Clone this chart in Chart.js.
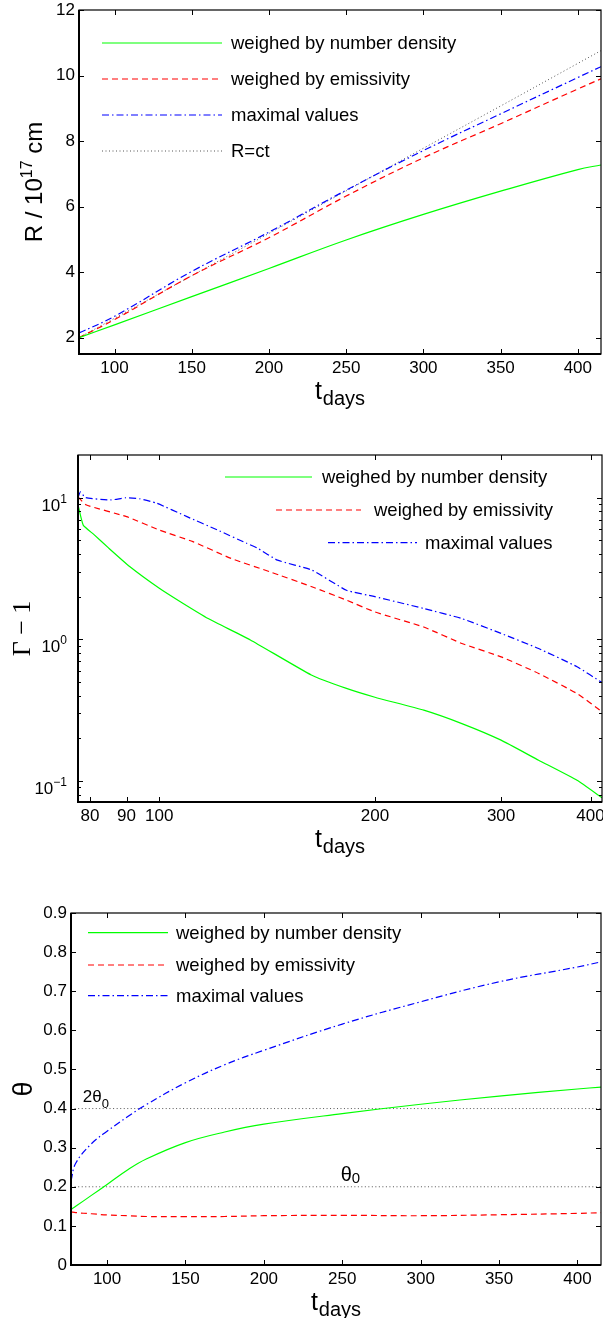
<!DOCTYPE html>
<html>
<head>
<meta charset="utf-8">
<script src="https://cdn.jsdelivr.net/npm/chart.js@4.4.0/dist/chart.umd.min.js"></script>
<style>
  html, body { margin: 0; padding: 0; background: #fff; }
  #lienzo { position: relative; width: 603px; height: 1318px; }
  canvas { position: absolute; left: 0; }
</style>
</head>
<body>
<div id="lienzo">
  <canvas id="radio" width="603" height="420" style="top:0px"></canvas>
  <canvas id="lorentz" width="603" height="440" style="top:420px"></canvas>
  <canvas id="apertura" width="603" height="458" style="top:860px"></canvas>
</div>
<script>
// ---- datos ----
// panel 1: R / 10^17 cm
const tRadio = [77, 100, 150, 200, 250, 300, 350, 400, 415];
const radioDensidad = [2.0, 2.39, 3.25, 4.11, 4.98, 5.76, 6.47, 7.13, 7.27];
const radioEmisividad = [2.0, 2.55, 3.89, 5.05, 6.32, 7.49, 8.53, 9.59, 9.90];
const radioMaximo = [2.14, 2.65, 4.02, 5.22, 6.50, 7.71, 8.83, 9.94, 10.27];
const radioLuz = [2.0, 2.59, 3.89, 5.18, 6.48, 7.78, 9.07, 10.37, 10.76];

// panel 2: Gamma - 1 (log-log)
const tGammaDensidad = [77, 78.3, 81, 85, 91, 100, 107, 117, 134, 163, 182.5, 200, 234, 264.5, 300, 338.5, 383, 415];
const gammaDensidad = [8.9, 6.4, 5.5, 4.4, 3.25, 2.29, 1.84, 1.40, 0.99, 0.56, 0.45, 0.39, 0.316, 0.254, 0.194, 0.14, 0.101, 0.076];
const tGammaEmisividad = [77, 79, 90, 100, 111.4, 126, 142.6, 163.3, 182.5, 200, 234, 264.5, 300, 338.5, 383, 415];
const gammaEmisividad = [10.1, 8.9, 7.34, 5.91, 4.89, 3.72, 3.0, 2.35, 1.89, 1.56, 1.22, 0.934, 0.752, 0.574, 0.414, 0.308];
const tGammaMaximo = [77, 77.6, 78.9, 85.6, 89.8, 94, 99.2, 109.3, 120.5, 132.4, 137.3, 146.2, 163.3, 182.5, 200, 233.9, 264.5, 300, 338.5, 383, 415];
const gammaMaximo = [10.0, 11.0, 10.0, 9.63, 9.98, 9.8, 9.13, 7.34, 5.92, 4.76, 4.38, 3.62, 3.08, 2.22, 2.0, 1.65, 1.40, 1.10, 0.86, 0.64, 0.495];
const ticksLorentzX = [80, 90, 100, 200, 300, 400];
const ticksLorentzY = [0.1, 1, 10];
const menoresLorentzY = [0.08, 0.09, 0.2, 0.3, 0.4, 0.5, 0.6, 0.7, 0.8, 0.9, 2, 3, 4, 5, 6, 7, 8, 9];

// panel 3: theta
const tTheta = [77, 80, 90, 100, 113, 125, 150, 175, 200, 250, 300, 350, 400, 415];
const thetaDensidad = [0.142, 0.15, 0.178, 0.206, 0.243, 0.271, 0.313, 0.34, 0.36, 0.387, 0.411, 0.432, 0.450, 0.455];
const thetaEmisividad = [0.136, 0.134, 0.131, 0.128, 0.126, 0.124, 0.1235, 0.124, 0.126, 0.127, 0.126, 0.1285, 0.132, 0.1337];
const thetaMaximo = [0.215, 0.26, 0.31, 0.342, 0.379, 0.41, 0.466, 0.512, 0.549, 0.616, 0.673, 0.724, 0.762, 0.775];
const tReferencia = [77, 415];
const dosTheta0 = [0.4, 0.4];
const theta0 = [0.2, 0.2];

// ---- estilos ----
const fuente = "'Liberation Sans', Arial, Helvetica, sans-serif";
const verde = '#00ff00';
const rojo = '#ff0000';
const azul = '#0000ff';
const gris = '#555555';
const guionRojo = [6, 4];
const guionAzul = [7, 3, 1.5, 3];
const punteado = [1, 2.5];

const serie = (etiqueta, xs, ys, color, guiones, ancho = 1.2, curva = 0.4) => ({
  label: etiqueta,
  data: xs.map((t, i) => ({ x: t, y: ys[i] })),
  borderColor: color,
  borderDash: guiones,
  borderWidth: ancho,
  pointRadius: 0,
  fill: false,
  tension: curva
});

const fijarAncho = (w) => (s) => { s.width = w; s.paddingTop = 0; s.paddingBottom = 0; s.paddingLeft = 0; s.paddingRight = 0; };
const fijarAlto = (h) => (s) => { s.height = h; s.paddingTop = 0; s.paddingBottom = 0; s.paddingLeft = 0; s.paddingRight = 0; };

const ejeBase = {
  grid: { display: false, drawTicks: false },
  border: { display: false },
  ticks: { color: '#000', font: { family: fuente, size: 17 }, maxRotation: 0, autoSkip: false, includeBounds: false, padding: 4 }
};

// marco tipo matlab, leyenda, titulos
const marcoMatlab = {
  id: 'marcoMatlab',
  afterDraw(chart, args, o) {
    const { ctx, chartArea: a, scales } = chart;
    const x = scales.x, y = scales.y;
    const raya = (x0, y0, x1, y1) => { ctx.beginPath(); ctx.moveTo(x0, y0); ctx.lineTo(x1, y1); ctx.stroke(); };
    ctx.save();
    ctx.strokeStyle = '#000';
    ctx.lineWidth = 1;
    x.ticks.forEach(t => {
      const px = Math.round(x.getPixelForValue(t.value)) + 0.5;
      raya(px, a.bottom, px, a.bottom - 5);
      raya(px, a.top, px, a.top + 5);
    });
    y.ticks.forEach(t => {
      const py = Math.round(y.getPixelForValue(t.value)) + 0.5;
      raya(a.left, py, a.left + 5, py);
      raya(a.right, py, a.right - 5, py);
    });
    (o.menores || []).forEach(v => {
      if (v <= y.min || v >= y.max) return;
      const py = Math.round(y.getPixelForValue(v)) + 0.5;
      raya(a.left, py, a.left + 3, py);
      raya(a.right, py, a.right - 3, py);
    });
    ctx.lineWidth = 1.2;
    ctx.strokeRect(a.left, a.top, a.right - a.left, a.bottom - a.top);
    ctx.lineWidth = 2;
    raya(a.left, a.top, a.left, a.bottom + 1);
    raya(a.left - 1, a.bottom, a.right, a.bottom);

    // etiquetas 10^n
    ctx.fillStyle = '#000';
    if (o.potencias) {
      ctx.textAlign = 'right';
      y.ticks.forEach(t => {
        const py = y.getPixelForValue(t.value);
        const e = Math.round(Math.log10(t.value));
        const sup = e < 0 ? '\u2212' + (-e) : String(e);
        ctx.font = `12px ${fuente}`;
        const ws = ctx.measureText(sup).width;
        const xr = a.left - 11;
        ctx.fillText(sup, xr, py + 5);
        ctx.font = `17px ${fuente}`;
        ctx.fillText('10', xr - ws, py + 13);
      });
      ctx.textAlign = 'left';
    }

    // leyenda
    (o.leyenda || []).forEach((item, i) => {
      const ds = chart.data.datasets[i];
      ctx.strokeStyle = ds.borderColor;
      ctx.lineWidth = ds.borderWidth;
      ctx.setLineDash(ds.borderDash || []);
      raya(item.x0, item.y, item.x1, item.y);
      ctx.setLineDash([]);
      ctx.font = `18.5px ${fuente}`;
      ctx.fillText(ds.label, item.xt, item.y + 6);
    });

    // notas (2theta0, theta0)
    (o.notas || []).forEach(n => {
      const px = x.getPixelForValue(n.t);
      const py = y.getPixelForValue(n.valor) + n.dy;
      ctx.font = `${n.size}px ${fuente}`;
      ctx.fillText(n.texto, px, py);
      const w = ctx.measureText(n.texto).width;
      ctx.font = `${n.subSize}px ${fuente}`;
      ctx.fillText(n.sub, px + w, py + n.subDy);
    });

    // titulo x: t_days
    const cx = (a.left + a.right) / 2;
    ctx.font = `25px ${fuente}`;
    const wt = ctx.measureText('t').width;
    ctx.font = `20px ${fuente}`;
    const wd = ctx.measureText('days').width;
    const x0 = cx - (wt + wd + 1) / 2;
    ctx.font = `25px ${fuente}`;
    ctx.fillText('t', x0, a.bottom + 45);
    ctx.font = `20px ${fuente}`;
    ctx.fillText('days', x0 + wt + 1, a.bottom + 51);

    // titulo y
    ctx.save();
    ctx.translate(o.tituloYx, (a.top + a.bottom) / 2);
    ctx.rotate(-Math.PI / 2);
    let total = 0;
    o.tituloY.forEach(p => {
      ctx.font = `${p.size}px ${p.familia || fuente}`;
      p.w = ctx.measureText(p.texto).width;
      total += p.w;
    });
    let pos = -total / 2;
    o.tituloY.forEach(p => {
      ctx.font = `${p.size}px ${p.familia || fuente}`;
      ctx.fillText(p.texto, pos, p.dy || 0);
      pos += p.w;
    });
    ctx.restore();
    ctx.restore();
  }
};

const opcionesComunes = { responsive: false, animation: false, events: [] };

// ---- panel 1 ----
new Chart(document.getElementById('radio'), {
  type: 'line',
  data: {
    datasets: [
      serie('weighed by number density', tRadio, radioDensidad, verde, []),
      serie('weighed by emissivity', tRadio, radioEmisividad, rojo, guionRojo),
      serie('maximal values', tRadio, radioMaximo, azul, guionAzul),
      serie('R=ct', tRadio, radioLuz, gris, punteado, 1)
    ]
  },
  options: {
    ...opcionesComunes,
    layout: { padding: { top: 10, right: 2, left: 0, bottom: 0 } },
    scales: {
      x: { ...ejeBase, type: 'linear', min: 77, max: 415, afterFit: fijarAlto(66),
           ticks: { ...ejeBase.ticks, stepSize: 50 } },
      y: { ...ejeBase, type: 'linear', min: 1.5, max: 12, afterFit: fijarAncho(79),
           ticks: { ...ejeBase.ticks, stepSize: 2 } }
    },
    plugins: {
      legend: { display: false },
      tooltip: { enabled: false },
      marcoMatlab: {
        leyenda: [
          { x0: 102, x1: 222, xt: 231, y: 43 },
          { x0: 102, x1: 222, xt: 231, y: 79 },
          { x0: 102, x1: 222, xt: 231, y: 115 },
          { x0: 102, x1: 222, xt: 231, y: 151 }
        ],
        tituloYx: 42,
        tituloY: [
          { texto: 'R / 10', size: 24 },
          { texto: '17', size: 16, dy: -10 },
          { texto: ' cm', size: 24 }
        ]
      }
    }
  },
  plugins: [marcoMatlab]
});

// ---- panel 2 ----
new Chart(document.getElementById('lorentz'), {
  type: 'line',
  data: {
    datasets: [
      serie('weighed by number density', tGammaDensidad, gammaDensidad, verde, [], 1.2, 0.15),
      serie('weighed by emissivity', tGammaEmisividad, gammaEmisividad, rojo, guionRojo, 1.2, 0.15),
      serie('maximal values', tGammaMaximo, gammaMaximo, azul, guionAzul, 1.2, 0.15)
    ]
  },
  options: {
    ...opcionesComunes,
    layout: { padding: { top: 35, right: 1, left: 0, bottom: 0 } },
    scales: {
      x: { ...ejeBase, type: 'logarithmic', min: 77, max: 415, afterFit: fijarAlto(58),
           afterBuildTicks: s => { s.ticks = ticksLorentzX.map(v => ({ value: v })); },
           ticks: { ...ejeBase.ticks, callback: v => String(v) } },
      y: { ...ejeBase, type: 'logarithmic', min: 0.071, max: 20, afterFit: fijarAncho(78),
           afterBuildTicks: s => { s.ticks = ticksLorentzY.map(v => ({ value: v })); },
           ticks: { ...ejeBase.ticks, display: false } }
    },
    plugins: {
      legend: { display: false },
      tooltip: { enabled: false },
      marcoMatlab: {
        potencias: true,
        menores: menoresLorentzY,
        leyenda: [
          { x0: 225, x1: 312, xt: 322, y: 57 },
          { x0: 276, x1: 361, xt: 374, y: 90 },
          { x0: 328, x1: 417, xt: 425, y: 122.7 }
        ],
        tituloYx: 30,
        tituloY: [
          { texto: '\u0393 \u2212 1', size: 26, familia: "'Liberation Serif', 'Times New Roman', serif" }
        ]
      }
    }
  },
  plugins: [marcoMatlab]
});

// ---- panel 3 ----
new Chart(document.getElementById('apertura'), {
  type: 'line',
  data: {
    datasets: [
      serie('weighed by number density', tTheta, thetaDensidad, verde, []),
      serie('weighed by emissivity', tTheta, thetaEmisividad, rojo, guionRojo),
      serie('maximal values', tTheta, thetaMaximo, azul, guionAzul),
      serie('2theta0', tReferencia, dosTheta0, gris, punteado, 1),
      serie('theta0', tReferencia, theta0, gris, punteado, 1)
    ]
  },
  options: {
    ...opcionesComunes,
    layout: { padding: { top: 53, right: 2, left: 0, bottom: 0 } },
    scales: {
      x: { ...ejeBase, type: 'linear', min: 77, max: 415, afterFit: fijarAlto(53),
           ticks: { ...ejeBase.ticks, stepSize: 50 } },
      y: { ...ejeBase, type: 'linear', min: 0, max: 0.9, afterFit: fijarAncho(71),
           ticks: { ...ejeBase.ticks, stepSize: 0.1, includeBounds: true, callback: v => (v === 0 ? '0' : v.toFixed(1)) } }
    },
    plugins: {
      legend: { display: false },
      tooltip: { enabled: false },
      marcoMatlab: {
        leyenda: [
          { x0: 88, x1: 168, xt: 176, y: 72.7 },
          { x0: 88, x1: 168, xt: 176, y: 105 },
          { x0: 88, x1: 168, xt: 176, y: 135.7 }
        ],
        notas: [
          { texto: '2\u03b8', sub: '0', t: 84.5, valor: 0.4, dy: -7, size: 17, subSize: 13, subDy: 6 },
          { texto: '\u03b8', sub: '0', t: 249, valor: 0.2, dy: -6, size: 20, subSize: 15, subDy: 2 }
        ],
        tituloYx: 32,
        tituloY: [{ texto: '\u03b8', size: 27 }]
      }
    }
  },
  plugins: [marcoMatlab]
});
</script>
</body>
</html>
